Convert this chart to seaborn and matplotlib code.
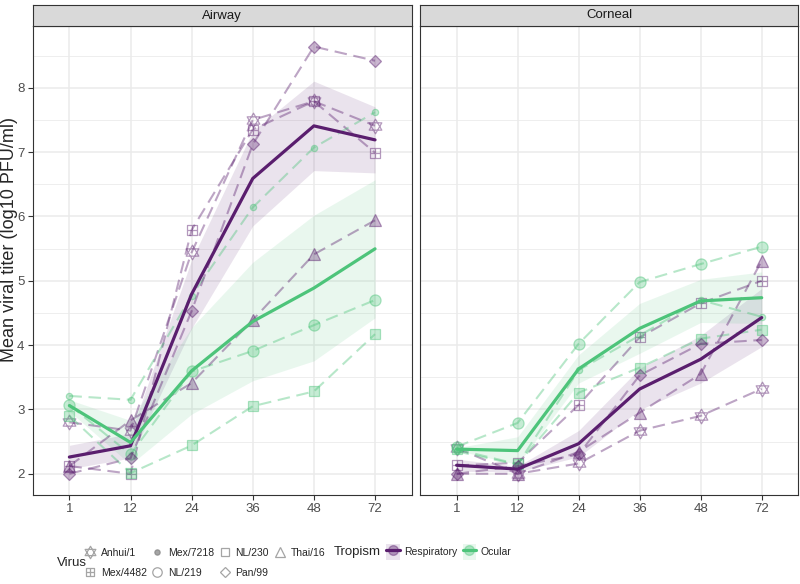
import numpy as np
import pandas as pd
import seaborn as sns
import matplotlib.pyplot as plt
from matplotlib.path import Path
from matplotlib.lines import Line2D
from matplotlib.patches import Patch

hours = ['1', '12', '24', '36', '48', '72']
viruses = ['Anhui/1', 'Mex/4482', 'Mex/7218', 'NL/219', 'NL/230', 'Pan/99', 'Thai/16']
tropisms = ['Respiratory', 'Respiratory', 'Ocular', 'Ocular', 'Ocular', 'Respiratory', 'Respiratory']
panels = ['Airway', 'Corneal']

# Airway titers (log10 PFU/ml) per virus, hours 1..72
anhui_air = [2.80, 2.67, 5.44, 7.50, 7.79, 7.41]
mex4482_air = [2.12, 2.00, 5.79, 7.35, 7.79, 6.99]
mex7218_air = [3.21, 3.15, 4.77, 6.14, 7.07, 7.62]
nl219_air = [3.07, 2.30, 3.59, 3.91, 4.31, 4.70]
nl230_air = [2.90, 2.01, 2.44, 3.05, 3.28, 4.17]
pan_air = [2.00, 2.24, 4.53, 7.12, 8.64, 8.42]
thai_air = [2.12, 2.83, 3.41, 4.39, 5.41, 5.94]

# Corneal titers
anhui_cor = [2.40, 2.00, 2.16, 2.67, 2.90, 3.32]
mex4482_cor = [2.13, 2.17, 3.07, 4.12, 4.65, 5.00]
mex7218_cor = [2.35, 2.14, 3.61, 4.15, 4.70, 4.44]
nl219_cor = [2.42, 2.79, 4.02, 4.98, 5.26, 5.53]
nl230_cor = [2.38, 2.15, 3.26, 3.65, 4.10, 4.24]
pan_cor = [2.00, 2.12, 2.30, 3.53, 4.02, 4.08]
thai_cor = [2.00, 2.00, 2.34, 2.95, 3.55, 5.31]

air = [anhui_air, mex4482_air, mex7218_air, nl219_air, nl230_air, pan_air, thai_air]
cor = [anhui_cor, mex4482_cor, mex7218_cor, nl219_cor, nl230_cor, pan_cor, thai_cor]

rows = []
for panel, series in zip(panels, [air, cor]):
    for v, t, vals in zip(viruses, tropisms, series):
        for i, y in enumerate(vals):
            rows.append(dict(panel=panel, virus=v, tropism=t, pos=i, titer=y))
df = pd.DataFrame(rows)

pal = {'Respiratory': '#5A1E6E', 'Ocular': '#4DC47A'}

# ggplot-like shapes: hexagram (11) and square-plus (12)
star = Path([(0, 1), (-0.866, -0.5), (0.866, -0.5), (0, 1),
             (0, -1), (-0.866, 0.5), (0.866, 0.5), (0, -1)],
            [Path.MOVETO, Path.LINETO, Path.LINETO, Path.CLOSEPOLY,
             Path.MOVETO, Path.LINETO, Path.LINETO, Path.CLOSEPOLY])
boxplus = Path([(-1, -1), (1, -1), (1, 1), (-1, 1), (-1, -1), (0, -1), (0, 1), (-1, 0), (1, 0)],
               [Path.MOVETO, Path.LINETO, Path.LINETO, Path.LINETO, Path.CLOSEPOLY,
                Path.MOVETO, Path.LINETO, Path.MOVETO, Path.LINETO])
marker_spec = {
    'Anhui/1': (star, 10.5, False),
    'Mex/4482': (boxplus, 7.5, False),
    'Mex/7218': ('o', 4.5, True),
    'NL/219': ('o', 8, True),
    'NL/230': ('s', 7.5, True),
    'Pan/99': ('D', 6.5, True),
    'Thai/16': ('^', 9, True),
}

sns.set_style('white')
plt.rcParams['font.family'] = ['Liberation Sans', 'DejaVu Sans']

fig = plt.figure(figsize=(8, 5.84), dpi=100)
W, H = 800, 584
top, bottom = 26, 495
ax1 = fig.add_axes([32.7 / W, (H - bottom) / H, 379 / W, (bottom - top) / H])
ax2 = fig.add_axes([420 / W, (H - bottom) / H, 378.3 / W, (bottom - top) / H])
axes = [ax1, ax2]


def rgba(c, a):
    r, g, b = plt.matplotlib.colors.to_rgb(c)
    return (r, g, b, a)


for ax, panel in zip(axes, panels):
    pdf = df[df.panel == panel]
    for v in viruses:
        sub = pdf[pdf.virus == v]
        m, ms, filled = marker_spec[v]
        c = pal[sub.tropism.iloc[0]]
        sns.lineplot(data=sub, x='pos', y='titer', ax=ax, color=rgba(c, 0.4),
                     errorbar=None, linestyle=(0, (6, 3.2)), linewidth=1.5,
                     marker=m, markersize=ms, mec=rgba(c, 0.45),
                     mfc=rgba(c, 0.32) if filled else 'none', mew=0.9,
                     legend=False, zorder=2)
    sns.lineplot(data=pdf, x='pos', y='titer', hue='tropism',
                 hue_order=['Respiratory', 'Ocular'], palette=pal, errorbar='se',
                 err_kws=dict(alpha=0.12, linewidth=0), linewidth=2.3, ax=ax,
                 legend=False, zorder=3)

    ax.set_xlim(-0.6, 5.6)
    ax.set_ylim(1.67, 8.96)
    ax.set_xticks(range(len(hours)))
    ax.set_xticklabels(hours)
    ax.set_yticks(range(2, 9))
    ax.set_yticks(np.arange(2.5, 9, 1), minor=True)
    ax.grid(which='major', color='#EBEBEB', lw=1.1)
    ax.grid(which='minor', axis='y', color='#EBEBEB', lw=0.6)
    ax.set_axisbelow(True)
    for s in ax.spines.values():
        s.set_color('#333333')
        s.set_linewidth(0.8)
    ax.tick_params(which='major', colors='#333333', labelcolor='#4D4D4D',
                   labelsize=9.5, length=3.5, width=0.8, pad=2.5, left=True, bottom=True)
    ax.tick_params(which='minor', length=0)
    ax.set_xlabel('')
    ax.set_ylabel('')

    # facet strip
    p = ax.get_position()
    sax = fig.add_axes([p.x0, p.y1, p.width, 21 / H])
    sax.set_facecolor('#D9D9D9')
    sax.set_xticks([])
    sax.set_yticks([])
    for s in sax.spines.values():
        s.set_color('#333333')
        s.set_linewidth(0.8)
    sax.text(0.5, 0.5, panel, ha='center', va='center', fontsize=9.5,
             color='#1A1A1A', transform=sax.transAxes)

ax2.tick_params(axis='y', left=False, labelleft=False)
fig.text(10 / W, 1 - 240 / H, 'Mean viral titer (log10 PFU/ml)',
         rotation=90, ha='center', va='center', fontsize=13)

# legends
grey = '#7F7F7F'
vhandles = []
for v in viruses:
    m, ms, filled = marker_spec[v]
    vhandles.append(Line2D([], [], ls='none', marker=m, markersize=ms * 0.85, mec=rgba(grey, 0.7),
                           mfc=rgba(grey, 0.7) if v == 'Mex/7218' else 'none', mew=0.9))
fig.text(57 / W, 1 - 563 / H, 'Virus', fontsize=9.5, va='center', ha='left')
vleg = fig.legend(vhandles, viruses, ncol=4, loc='center left',
                  bbox_to_anchor=(84 / W, 1 - 563 / H), frameon=False, fontsize=7.5,
                  borderpad=0, borderaxespad=0, handlelength=1.15, handleheight=1.0,
                  columnspacing=0.45, handletextpad=0.45, labelspacing=0.95)

fig.canvas.draw()
vx1 = vleg.get_window_extent().x1

thandles = []
for t in ['Respiratory', 'Ocular']:
    thandles.append((Patch(fc=pal[t], alpha=0.12, ec='none'),
                     Line2D([], [], ls='none', marker='o', ms=7, color=pal[t], alpha=0.4),
                     Line2D([], [], color=pal[t], lw=2.3)))
ttl = fig.text(max(330, vx1 + 9) / W, 1 - 552 / H, 'Tropism', fontsize=9.5,
               va='center', ha='left')
fig.canvas.draw()
tx1 = ttl.get_window_extent().x1
fig.legend(thandles, ['Respiratory', 'Ocular'], ncol=2, loc='center left',
           bbox_to_anchor=((tx1 + 5) / W, 1 - 552 / H), frameon=False, fontsize=7.5,
           borderpad=0, borderaxespad=0, handlelength=1.3, handleheight=2.0,
           columnspacing=0.5, handletextpad=0.45)

fig.savefig('out.png', dpi=100)
